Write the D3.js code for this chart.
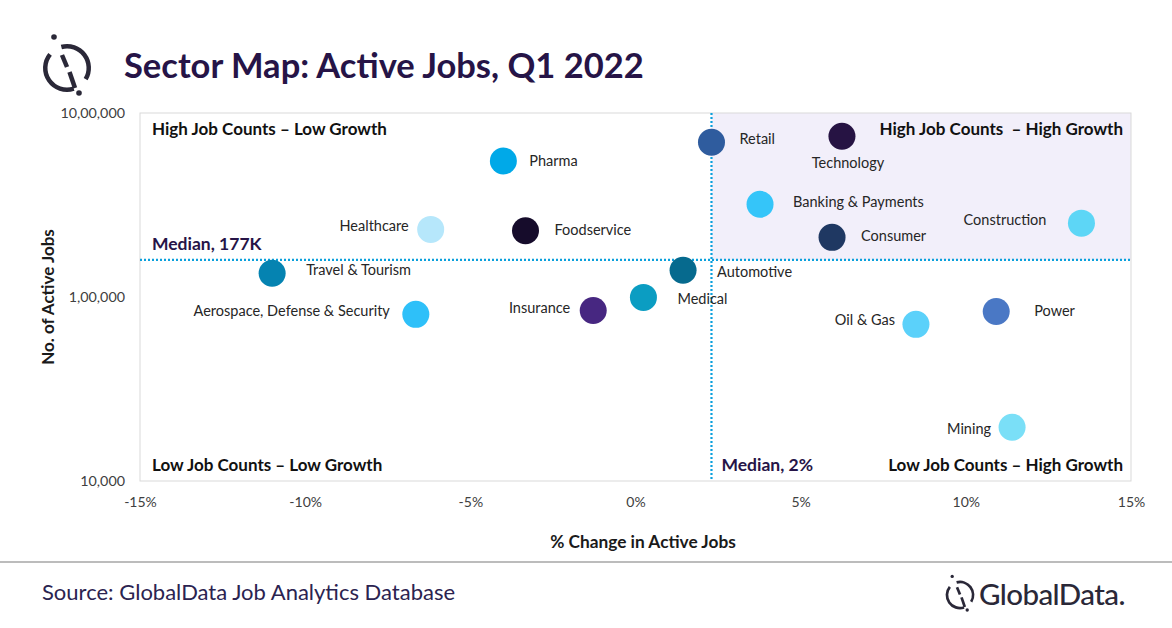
<!DOCTYPE html>
<html>
<head>
<meta charset="utf-8">
<script src="https://cdn.jsdelivr.net/npm/d3@7"></script>
<style>
  body { margin: 0; background: #fff; }
  text { font-family: Lato, "Open Sans", sans-serif; }
</style>
</head>
<body>
<div id="chart"></div>
<script>
// sectors, % change in active jobs, active job counts
var sectors = ['Retail', 'Technology', 'Pharma', 'Banking & Payments', 'Construction', 'Consumer',
  'Healthcare', 'Foodservice', 'Travel & Tourism', 'Automotive', 'Medical', 'Insurance',
  'Aerospace, Defense & Security', 'Oil & Gas', 'Power', 'Mining'];
var pctChange = [2.3, 6.25, -4.0, 3.77, 13.5, 5.95, -6.2, -3.33, -11.0, 1.44, 0.24, -1.28, -6.65, 8.49, 10.92, 11.4];
var activeJobs = [693000, 747000, 548000, 319000, 252000, 211000, 233000, 229000, 134500, 139700, 99500, 84500, 80500, 71000, 83400, 19600];
var sectorColors = ['#2F5C9E', '#261343', '#00A9E8', '#35C5F9', '#5DD6F6', '#1F3862', '#B6E7FB', '#160C2B',
  '#0583B1', '#066A8E', '#0B9DC2', '#472781', '#2EC0F9', '#5BD1FA', '#4A78C5', '#7ADFF7'];

var xTicks = [-15, -10, -5, 0, 5, 10, 15];
var yTickValues = [10000, 100000, 1000000];
var yTickLabels = ['10,000', '1,00,000', '10,00,000'];

var medianPct = 2.3;
var medianJobs = 159000;   // where the dotted line sits
var medianJobsLabel = 'Median, 177K';
var medianPctLabel = 'Median, 2%';

// which side of the bubble each label goes on, gap, vertical nudge
var labelPlace = {
  'Retail': ['right', 28, -3], 'Technology': ['below', 27, 0], 'Pharma': ['right', 26, 0],
  'Banking & Payments': ['right', 33, -2], 'Construction': ['left', 35, -3], 'Consumer': ['right', 29, -1],
  'Healthcare': ['left', 22, -3], 'Foodservice': ['right', 29, -1], 'Travel & Tourism': ['right', 34, -3],
  'Automotive': ['right', 34, 2], 'Medical': ['right', 34, 2], 'Insurance': ['left', 23, -3],
  'Aerospace, Defense & Security': ['left', 26, -3], 'Oil & Gas': ['left', 21, -4], 'Power': ['right', 38, -1],
  'Mining': ['left', 21, 2]
};

var W = 1172, H = 628;
var svg = d3.select('#chart').append('svg')
  .attr('width', W)
  .attr('height', H);

svg.append('rect').attr('width', W).attr('height', H).attr('fill', '#fff');

var x = d3.scaleLinear().domain([-15, 15]).range([140, 1131]);
var y = d3.scaleLog().domain([10000, 1000000]).range([481, 113]);

var dark = '#261447';
var deg = Math.PI / 180;

// GlobalData mark: broken ring, slash, two dots
function logo(g, s) {
  var ink = '#2A2838';
  var ring = d3.arc().innerRadius(19.5 * s).outerRadius(24 * s);
  g.append('path').attr('d', ring({startAngle: 162 * deg, endAngle: 309 * deg})).attr('fill', ink);
  g.append('path').attr('d', ring({startAngle: -15 * deg, endAngle: 121 * deg})).attr('fill', ink);
  g.append('line').attr('x1', -5 * s).attr('y1', -13 * s).attr('x2', 0).attr('y2', -1 * s)
    .attr('stroke', ink).attr('stroke-width', 4.5 * s);
  g.append('line').attr('x1', 2.5 * s).attr('y1', 4 * s).attr('x2', 8 * s).attr('y2', 20 * s)
    .attr('stroke', ink).attr('stroke-width', 4.5 * s);
  g.append('circle').attr('cx', -13 * s).attr('cy', -31 * s).attr('r', 2.8 * s).attr('fill', ink);
  g.append('circle').attr('cx', 12 * s).attr('cy', 25 * s).attr('r', 2.8 * s).attr('fill', ink);
}
logo(svg.append('g').attr('transform', 'translate(67,68)'), 1);

svg.append('text')
  .attr('x', 124).attr('y', 78)
  .attr('font-size', 34.5).attr('font-weight', 'bold')
  .attr('fill', dark)
  .text('Sector Map: Active Jobs, Q1 2022');

// shaded quadrant
svg.append('rect')
  .attr('x', x(medianPct)).attr('y', y(1000000))
  .attr('width', x(15) - x(medianPct))
  .attr('height', y(medianJobs) - y(1000000))
  .attr('fill', '#F2EFFA');

// frame
svg.append('rect')
  .attr('x', x(-15)).attr('y', y(1000000))
  .attr('width', x(15) - x(-15)).attr('height', y(10000) - y(1000000))
  .attr('fill', 'none').attr('stroke', '#D9D9D9').attr('stroke-width', 1);

// axes (labels only)
var xAxis = svg.append('g')
  .attr('transform', 'translate(0,' + (y(10000) + 13) + ')')
  .call(d3.axisBottom(x).tickValues(xTicks).tickSize(0).tickFormat(function(d) { return d + '%'; }));
xAxis.select('.domain').remove();
xAxis.selectAll('text').attr('font-size', 14).attr('fill', '#404040')
  .attr('font-family', '"Open Sans", sans-serif');

var yAxis = svg.append('g')
  .attr('transform', 'translate(' + (x(-15) - 12) + ',0)')
  .call(d3.axisLeft(y).tickValues(yTickValues).tickSize(0)
    .tickFormat(function(d, i) { return yTickLabels[i]; }));
yAxis.select('.domain').remove();
yAxis.selectAll('text').attr('font-size', 14.3).attr('fill', '#404040')
  .attr('font-family', '"Open Sans", sans-serif');

svg.append('text')
  .attr('x', 643).attr('y', 548)
  .attr('text-anchor', 'middle')
  .attr('font-size', 17.3).attr('font-weight', 'bold').attr('fill', '#1a1a1a')
  .text('% Change in Active Jobs');

svg.append('text')
  .attr('transform', 'translate(54,297) rotate(-90)')
  .attr('text-anchor', 'middle')
  .attr('font-size', 17).attr('font-weight', 'bold').attr('fill', '#1a1a1a')
  .text('No. of Active Jobs');

// median lines
svg.append('line')
  .attr('x1', x(-15)).attr('x2', x(15))
  .attr('y1', y(medianJobs)).attr('y2', y(medianJobs))
  .attr('stroke', '#0BA0DC').attr('stroke-width', 2.2).attr('stroke-dasharray', '2,2');
svg.append('line')
  .attr('x1', x(medianPct)).attr('x2', x(medianPct))
  .attr('y1', y(1000000)).attr('y2', y(10000))
  .attr('stroke', '#0BA0DC').attr('stroke-width', 2.2).attr('stroke-dasharray', '2,2');

svg.append('text')
  .attr('x', x(-15) + 12).attr('y', y(medianJobs) - 10)
  .attr('font-size', 17.5).attr('font-weight', 'bold').attr('fill', dark)
  .text(medianJobsLabel);
svg.append('text')
  .attr('x', x(medianPct) + 10).attr('y', y(10000) - 10)
  .attr('font-size', 17.5).attr('font-weight', 'bold').attr('fill', dark)
  .text(medianPctLabel);

// quadrant names
var quads = [
  {t: 'High Job Counts \u2013 Low Growth', x: x(-15) + 12, y: y(1000000) + 22, a: 'start'},
  {t: 'High Job Counts  \u2013 High Growth', x: x(15) - 8, y: y(1000000) + 22, a: 'end'},
  {t: 'Low Job Counts \u2013 Low Growth', x: x(-15) + 12, y: y(10000) - 10, a: 'start'},
  {t: 'Low Job Counts \u2013 High Growth', x: x(15) - 8, y: y(10000) - 10, a: 'end'}
];
svg.append('g').selectAll('text')
  .data(quads).enter().append('text')
  .attr('x', function(d) { return d.x; })
  .attr('y', function(d) { return d.y; })
  .attr('text-anchor', function(d) { return d.a; })
  .attr('font-size', 17).attr('font-weight', 'bold').attr('fill', '#111')
  .style('white-space', 'pre')
  .text(function(d) { return d.t; });

// bubbles
var pts = sectors.map(function(s, i) {
  return {name: s, pct: pctChange[i], jobs: activeJobs[i], color: sectorColors[i]};
});

var node = svg.append('g').selectAll('g')
  .data(pts).enter().append('g')
  .attr('transform', function(d) { return 'translate(' + x(d.pct) + ',' + y(d.jobs) + ')'; });

node.append('circle')
  .attr('r', 13.5)
  .attr('fill', function(d) { return d.color; });

node.append('text')
  .attr('font-size', 14.5)
  .attr('fill', '#262626')
  .attr('font-family', '"Open Sans", sans-serif')
  .attr('dy', '0.35em')
  .attr('text-anchor', function(d) {
    var p = labelPlace[d.name][0];
    return p == 'left' ? 'end' : (p == 'below' ? 'middle' : 'start');
  })
  .attr('x', function(d) {
    var p = labelPlace[d.name];
    return p[0] == 'left' ? -p[1] : (p[0] == 'below' ? 6 : p[1]);
  })
  .attr('y', function(d) {
    var p = labelPlace[d.name];
    return p[0] == 'below' ? p[1] : p[2];
  })
  .text(function(d) { return d.name; });

// footer
svg.append('line')
  .attr('x1', 0).attr('x2', W).attr('y1', 562).attr('y2', 562)
  .attr('stroke', '#A6A6A6').attr('stroke-width', 1.5);

svg.append('text')
  .attr('x', 42).attr('y', 600)
  .attr('font-size', 22).attr('fill', '#2B2350')
  .text('Source: GlobalData Job Analytics Database');

logo(svg.append('g').attr('transform', 'translate(960,595)'), 0.6);
svg.append('text')
  .attr('x', 979).attr('y', 605)
  .attr('font-size', 29.5).attr('font-weight', 500).attr('fill', '#2A2838')
  .attr('font-family', 'Inter, Lato, sans-serif')
  .attr('letter-spacing', -0.6)
  .text('GlobalData.');
</script>
</body>
</html>
